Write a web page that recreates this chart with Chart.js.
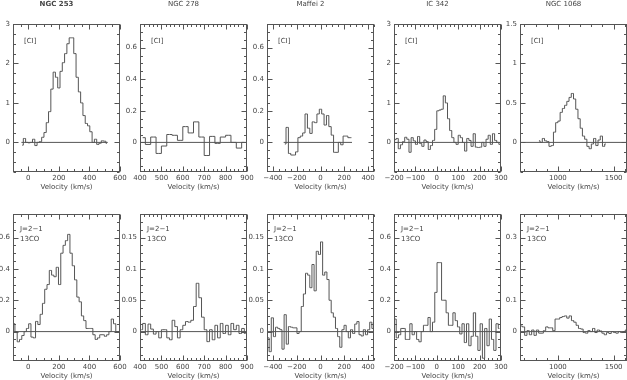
<!DOCTYPE html>
<html>
<head>
<meta charset="utf-8">
<script src="https://cdn.jsdelivr.net/npm/chart.js@4.4.0/dist/chart.umd.min.js"></script>
<style>
  body { margin: 0; background: #fff; width: 627px; height: 380px; overflow: hidden; position: relative; }
  canvas { position: absolute; }
</style>
</head>
<body>
<script>
var galaxies = ["NGC 253", "NGC 278", "Maffei 2", "IC 342", "NGC 1068"];

// velocity axis of each column (km/s)
var velMin = [-100, 400, -450, -200, 660];
var velMax = [600, 900, 450, 300, 1620];
var velTicks = [[0, 200, 400, 600], [400, 500, 600, 700, 800, 900], [-400, -200, 0, 200, 400], [-200, -100, 0, 100, 200, 300], [1000, 1500]];
var velMinor = [50, 20, 50, 20, 100];

// top row: [CI]
var ciMax = [3, 0.75, 0.75, 3, 1.5];
var ciTicks = [[0, 1, 2, 3], [0, 0.2, 0.4, 0.6], [0, 0.2, 0.4, 0.6], [0, 1, 2, 3], [0, 0.5, 1, 1.5]];
var ciMinor = [0.25, 0.05, 0.05, 0.25, 0.125];
var ciStart = [-40, 412.5, -300, -195, 830];   // first channel velocity
var ciWidth = [15, 25, 20, 10, 20];            // channel width
var ciBaseline = [[-45, 520], [400, 900], [-310, 265], [-200, 300], [660, 1620]];

var ci253 = [-0.07, 0.10, 0.00, -0.01, 0.00, 0.08, -0.08, 0.00, 0.02, 0.13, 0.25, 0.50, 0.78, 1.35, 1.78, 1.65, 1.38, 1.80, 2.02,
  2.25, 2.50, 2.65, 2.65, 2.25, 1.65, 1.28, 1.00, 0.68, 0.48, 0.42, 0.27, 0.00, 0.08, -0.05, -0.02, 0.04, 0.03, -0.02];
var ci278 = [0.03, -0.013, 0.034, -0.07, -0.023, 0.05, 0.045, 0.013, 0.10, 0.06, 0.13, 0.034, -0.083, 0.038, -0.006, 0.034, 0.045, 0.0, -0.036, 0.0];
var ciMaffei = [-0.01, 0.095, -0.07, -0.08, -0.08, -0.06, 0.03, 0.04, 0.06, 0.18, 0.09, 0.057, 0.13, 0.125, 0.18, 0.21, 0.18, 0.11,
  0.17, 0.10, 0.046, -0.063, -0.063, 0.0, -0.015, 0.04, 0.04, 0.03, 0.03];
var ci342 = [0.07, 0.10, -0.16, -0.06, 0.02, 0.13, 0.08, -0.25, 0.12, 0.04, -0.05, 0.15, -0.03, -0.10, 0.06, 0.02, -0.18, -0.08, 0.05,
  0.33, 0.80, 0.82, 0.84, 1.18, 1.00, 0.60, 0.30, 0.12, 0.00, -0.05, 0.18, 0.12, 0.00, -0.22, 0.10, 0.05, -0.10, 0.22, -0.12, -0.13,
  -0.12, 0.00, -0.10, 0.08, 0.18, -0.05, 0.22, 0.05, 0.00, -0.05];
var ci1068 = [0.02, 0.0, 0.05, 0.02, 0.01, -0.05, -0.04, 0.13, 0.25, 0.27, 0.38, 0.43, 0.47, 0.52, 0.57, 0.62, 0.55, 0.42, 0.30, 0.18,
  0.08, 0.04, -0.05, -0.08, -0.02, 0.05, -0.04, 0.03, 0.08, -0.05, -0.02];

// bottom row: 13CO J=2-1
var coMax = [0.75, 0.1875, 0.1875, 0.75, 0.375];
var coTicks = [[0, 0.2, 0.4, 0.6], [0, 0.05, 0.1, 0.15], [0, 0.05, 0.1, 0.15], [0, 0.2, 0.4, 0.6], [0, 0.1, 0.2, 0.3]];
var coMinor = [0.05, 0.0125, 0.0125, 0.05, 0.025];
var coStart = [-95, 406.25, -441, -195, 670];
var coWidth = [15, 12.5, 18, 10.6, 21];
var coBaseline = [[-100, 600], [400, 900], [-450, 450], [-200, 300], [660, 1620]];

var co253 = [0.05, 0.0, -0.065, -0.05, -0.025, 0.0, 0.02, 0.05, -0.035, -0.04, 0.065, 0.045, 0.11, 0.18, 0.27, 0.30, 0.39, 0.36, 0.35,
  0.41, 0.30, 0.50, 0.55, 0.58, 0.62, 0.50, 0.42, 0.33, 0.22, 0.19, 0.10, 0.07, 0.02, 0.02, 0.02, -0.02, -0.05, -0.04, -0.02, -0.02,
  -0.03, -0.02, 0.0, 0.08, 0.05, 0.0, 0.0];
var co278 = [0.003, 0.013, -0.005, 0.012, 0.004, -0.004, 0.0, -0.01, 0.003, 0.003, -0.01, -0.013, 0.018, 0.008, -0.01, 0.003, 0.01,
  0.016, 0.015, 0.018, 0.04, 0.077, 0.054, 0.023, 0.003, -0.016, 0.003, -0.013, 0.01, -0.01, 0.013, -0.003, 0.01, -0.005, 0.013,
  0.003, 0.01, -0.003, 0.005, -0.003];
var coMaffei = [-0.01, -0.032, 0.022, -0.008, 0.007, 0.005, 0.003, -0.028, 0.027, -0.02, 0.008, 0.007, 0.006, 0.006, -0.003, 0.0,
  0.04, 0.06, 0.093, 0.09, 0.07, 0.107, 0.065, 0.128, 0.123, 0.143, 0.09, 0.095, 0.083, 0.05, 0.03, 0.023, 0.005, -0.008, -0.025,
  0.003, 0.01, 0.0, -0.01, 0.003, -0.003, 0.012, 0.016, -0.005, -0.007, 0.003, -0.005, 0.003, 0.015, 0.005];
var co342 = [0.08, -0.04, -0.02, 0.02, 0.02, -0.05, -0.05, 0.05, -0.02, 0.0, -0.05, -0.065, 0.0, 0.04, 0.04, 0.09, 0.0, 0.06, 0.25,
  0.44, 0.44, 0.2, 0.2, 0.12, 0.04, 0.04, 0.12, 0.07, 0.03, -0.015, 0.05, -0.07, 0.05, -0.09, -0.03, 0.12, -0.03, -0.12, 0.05, -0.17,
  0.02, -0.09, 0.08, -0.05, -0.12, 0.05, 0.02];
var co1068 = [0.018, 0.015, -0.012, 0.003, -0.01, 0.005, -0.012, 0.005, -0.005, -0.005, 0.003, 0.015, 0.012, 0.012, 0.003, 0.04,
  0.04, 0.045, 0.048, 0.05, 0.043, 0.05, 0.035, 0.03, 0.02, 0.01, 0.008, -0.003, -0.005, 0.003, 0.0, 0.01, -0.003, 0.005, 0.002,
  -0.005, -0.01, -0.003, -0.006, 0.0, -0.003, -0.005, 0.0, -0.003, 0.0, 0.005];

var ciSpectra = [ci253, ci278, ciMaffei, ci342, ci1068];
var coSpectra = [co253, co278, coMaffei, co342, co1068];

// page layout of the plot frames
var frameLeft = [13, 140, 267, 394, 520];
var frameTop = [24, 214];
var frameHeight = [148, 147];
var frameWidth = 107;
var padL = 30, padT = 24, padR = 14, padB = 20;

var lineColor = '#555';
var textColor = '#444';
var font = { family: 'DejaVu Sans', size: 7 };

function fmt(v) {
  return v < 0 ? '\u2212' + String(-v) : String(v);
}

function toPoints(vals, start, step) {
  return vals.map(function (t, i) { return { x: start + i * step, y: t }; });
}

function makePanel(row, col) {
  var yMax = row === 0 ? ciMax[col] : coMax[col];
  var yTicks = row === 0 ? ciTicks[col] : coTicks[col];
  var yMinor = row === 0 ? ciMinor[col] : coMinor[col];
  var vals = row === 0 ? ciSpectra[col] : coSpectra[col];
  var start = row === 0 ? ciStart[col] : coStart[col];
  var step = row === 0 ? ciWidth[col] : coWidth[col];
  var base = row === 0 ? ciBaseline[col] : coBaseline[col];

  var canvas = document.createElement('canvas');
  canvas.width = padL + frameWidth + padR;
  canvas.height = padT + frameHeight[row] + padB;
  canvas.style.left = (frameLeft[col] - padL) + 'px';
  canvas.style.top = (frameTop[row] - padT) + 'px';
  document.body.appendChild(canvas);

  // box with inward ticks on all sides, plus labels inside the frame
  var frame = {
    id: 'frame' + row + col,
    afterDraw: function (chart) {
      var ctx = chart.ctx, a = chart.chartArea;
      var xs = chart.scales.x, ys = chart.scales.y;
      var l = Math.round(a.left) + 0.5, r = Math.round(a.right) - 0.5;
      var t = Math.round(a.top) + 0.5, b = Math.round(a.bottom) - 0.5;
      ctx.save();
      ctx.strokeStyle = lineColor;
      ctx.lineWidth = 1;
      ctx.strokeRect(l, t, r - l, b - t);
      ctx.beginPath();
      var xStep = velTicks[col][1] - velTicks[col][0];
      var k, v, p, len;
      for (k = Math.ceil(velMin[col] / velMinor[col] - 1e-9); k * velMinor[col] <= velMax[col] + 1e-9; k++) {
        v = k * velMinor[col];
        len = Math.abs(v / xStep - Math.round(v / xStep)) < 1e-6 ? 5 : 2.5;
        p = Math.round(xs.getPixelForValue(v)) + 0.5;
        ctx.moveTo(p, b); ctx.lineTo(p, b - len);
        ctx.moveTo(p, t); ctx.lineTo(p, t + len);
      }
      var yStep = yTicks[1] - yTicks[0];
      for (k = Math.ceil(-yMax / 4 / yMinor - 1e-9); k * yMinor <= yMax + 1e-9; k++) {
        v = k * yMinor;
        len = Math.abs(v / yStep - Math.round(v / yStep)) < 1e-6 ? 5 : 2.5;
        p = Math.round(ys.getPixelForValue(v)) + 0.5;
        ctx.moveTo(l, p); ctx.lineTo(l + len, p);
        ctx.moveTo(r, p); ctx.lineTo(r - len, p);
      }
      ctx.stroke();

      ctx.fillStyle = textColor;
      ctx.textBaseline = 'middle';
      ctx.textAlign = 'left';
      ctx.font = '7px "DejaVu Sans"';
      if (row === 0) {
        ctx.fillText('[CI]', a.left + 11, a.top + 17);
        ctx.textAlign = 'center';
        ctx.font = (col === 0 ? 'bold ' : '') + '7px "DejaVu Sans"';
        ctx.fillText(galaxies[col], (a.left + a.right) / 2 - 10, a.top - 19.5);
      } else {
        ctx.fillText('J=2\u22121', a.left + 7, a.top + 15.5);
        ctx.fillText('13CO', a.left + 7, a.top + 25);
      }
      ctx.restore();
    }
  };

  return new Chart(canvas, {
    type: 'line',
    data: {
      datasets: [
        { data: toPoints(vals, start, step), stepped: 'middle', borderColor: lineColor, borderWidth: 1, pointRadius: 0, fill: false },
        { data: [{ x: base[0], y: 0 }, { x: base[1], y: 0 }], borderColor: lineColor, borderWidth: 1, pointRadius: 0, fill: false }
      ]
    },
    options: {
      responsive: false,
      animation: false,
      events: [],
      layout: { padding: { left: 0, top: padT, right: padR, bottom: 0 } },
      plugins: { legend: { display: false }, tooltip: { enabled: false } },
      scales: {
        x: {
          type: 'linear',
          min: velMin[col],
          max: velMax[col],
          afterBuildTicks: function (s) { s.ticks = velTicks[col].map(function (v) { return { value: v }; }); },
          afterFit: function (s) { s.height = padB; s.paddingLeft = 0; s.paddingRight = 0; },
          grid: { display: false, drawTicks: false },
          border: { display: false },
          ticks: { autoSkip: false, maxRotation: 0, padding: 2, font: font, color: textColor, callback: fmt },
          title: { display: true, text: 'Velocity (km/s)', font: font, color: textColor, padding: { top: 0, bottom: 1 } }
        },
        y: {
          min: -yMax / 4,
          max: yMax,
          afterBuildTicks: function (s) { s.ticks = yTicks.map(function (v) { return { value: v }; }); },
          afterFit: function (s) { s.width = padL; s.paddingTop = 0; s.paddingBottom = 0; },
          grid: { display: false, drawTicks: false },
          border: { display: false },
          ticks: { autoSkip: false, padding: 3, font: font, color: textColor, callback: fmt }
        }
      }
    },
    plugins: [frame]
  });
}

for (var row = 0; row < 2; row++) {
  for (var col = 0; col < 5; col++) {
    makePanel(row, col);
  }
}
</script>
</body>
</html>
